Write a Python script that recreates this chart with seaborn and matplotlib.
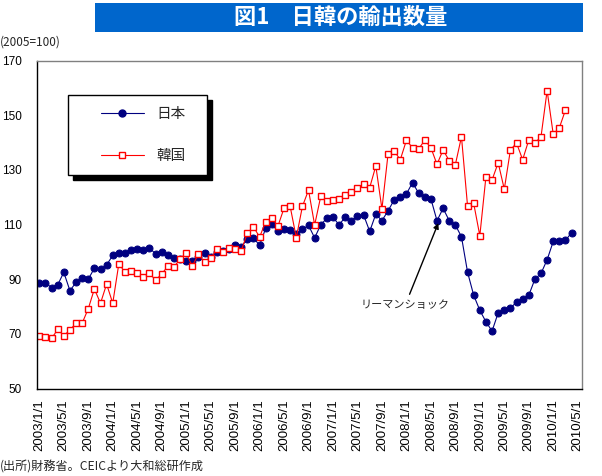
import numpy as np
import pandas as pd
import matplotlib
matplotlib.use("Agg")
import matplotlib.pyplot as plt
from matplotlib.patches import Rectangle
from matplotlib.lines import Line2D
import seaborn as sns

# monthly export volume index (2005=100), 2003/1 onward
japan = [88.5, 88.7, 86.9, 87.9, 92.5, 85.8, 88.8, 90.4, 90.0, 94.0, 93.6, 95.2,
         98.7, 99.6, 99.6, 100.8, 101.1, 100.8, 101.5, 99.2, 99.9, 98.8, 97.8, 97.5,
         96.7, 96.7, 98.0, 99.6, 98.0, 99.9, 100.4, 100.9, 102.4, 101.9, 104.6, 105.1,
         102.4, 108.6, 110.1, 107.5, 108.2, 107.9, 106.4, 108.2, 109.7, 105.1, 109.9, 112.3,
         112.6, 109.9, 112.7, 111.4, 113.1, 113.5, 107.5, 113.8, 111.4, 115.0, 119.0, 120.0,
         121.2, 125.3, 121.5, 120.0, 119.4, 111.4, 115.9, 111.4, 109.8, 105.5, 92.5, 84.1,
         78.6, 74.4, 71.0, 77.7, 78.7, 79.3, 81.7, 82.8, 84.1, 90.0, 92.1, 97.1,
         103.8, 103.8, 104.2, 107.0]
korea = [69.2, 68.9, 68.3, 71.6, 69.3, 71.4, 73.9, 73.9, 79.2, 86.4, 81.2, 88.2,
         81.2, 95.7, 92.5, 93.1, 92.1, 90.8, 92.2, 89.6, 91.9, 94.7, 94.3, 97.5,
         99.5, 94.7, 99.2, 96.1, 97.6, 100.9, 99.8, 101.4, 101.2, 100.4, 106.8, 109.2,
         105.4, 111.0, 112.4, 109.4, 116.0, 116.6, 105.2, 116.6, 122.6, 109.8, 120.3, 118.7,
         118.8, 119.4, 120.8, 122.0, 123.2, 124.7, 123.5, 131.4, 115.7, 135.8, 136.9, 133.7,
         140.8, 138.1, 137.7, 140.8, 138.1, 132.0, 137.3, 133.3, 131.9, 142.1, 116.6, 117.7,
         105.9, 127.5, 126.3, 132.6, 122.9, 137.3, 139.8, 133.7, 140.9, 139.8, 142.1, 159.0,
         143.0, 145.4, 151.9]

months = [f"{2003 + k // 12}/{k % 12 + 1}/1" for k in range(89)]
tick_idx = list(range(0, 89, 4))
tick_labels = [months[k] for k in tick_idx]
y_ticks = [50, 70, 90, 110, 130, 150, 170]

jp_font = ["Noto Sans CJK JP", "DejaVu Sans"]
num_font = ["Liberation Sans", "DejaVu Sans"]

df = pd.concat([
    pd.DataFrame({"t": range(len(japan)), "v": japan, "s": "日本"}),
    pd.DataFrame({"t": range(len(korea)), "v": korea, "s": "韓国"}),
])

sns.set_style("white")
plt.rcParams["font.family"] = jp_font

fig = plt.figure(figsize=(6.02, 4.76), dpi=100)
W, H = 602, 476
ax = fig.add_axes([37 / W, 1 - 388.5 / H, (582 - 37) / W, (388.5 - 60.5) / H])

sns.lineplot(data=df[df.s == "日本"], x="t", y="v", ax=ax, color="#000080",
             linewidth=0.8, marker="o", markersize=5, markeredgecolor="#000080",
             markerfacecolor="#000080", legend=False)
sns.lineplot(data=df[df.s == "韓国"], x="t", y="v", ax=ax, color="#FF0000",
             linewidth=0.8, marker="s", markersize=5, markeredgecolor="#FF0000",
             markerfacecolor="white", markeredgewidth=1.0, legend=False)

ax.set_xlim(-0.38, 88.7)
ax.set_ylim(50, 170)
ax.set_yticks(y_ticks)
ax.set_yticklabels([str(v) for v in y_ticks], fontsize=8.5, family=num_font)
ax.set_xticks(tick_idx)
ax.set_xticklabels(tick_labels, rotation=90, fontsize=9.5, family=num_font)
ax.tick_params(axis="both", direction="in", length=4, width=0.8, colors="black")
ax.tick_params(axis="x", pad=8)
ax.tick_params(axis="y", pad=11)
ax.set_xlabel("")
ax.set_ylabel("")
for side in ["left", "bottom"]:
    ax.spines[side].set_color("black")
    ax.spines[side].set_linewidth(1.0)
for side in ["top", "right"]:
    ax.spines[side].set_color("#808080")
    ax.spines[side].set_linewidth(1.0)

# legend box with solid shadow
bx0, bx1 = (68 - 37) / 545, (207 - 37) / 545
by0, by1 = (388.5 - 175) / 328, (388.5 - 95) / 328
ax.add_patch(Rectangle((bx0 + 5 / 545, by0 - 5 / 328), bx1 - bx0, by1 - by0,
                       transform=ax.transAxes, facecolor="black", edgecolor="black", zorder=5))
ax.add_patch(Rectangle((bx0, by0), bx1 - bx0, by1 - by0, transform=ax.transAxes,
                       facecolor="white", edgecolor="black", linewidth=1.0, zorder=6))
handles = [
    Line2D([], [], color="#000080", lw=0.8, marker="o", markersize=5,
           markerfacecolor="#000080", markeredgecolor="#000080"),
    Line2D([], [], color="#FF0000", lw=0.8, marker="s", markersize=5,
           markerfacecolor="white", markeredgecolor="#FF0000"),
]
leg = ax.legend(handles, ["日本", "韓国"], loc="center",
                bbox_to_anchor=((bx0 + bx1) / 2 + 0.01, (by0 + by1) / 2),
                frameon=False, handlelength=3.0, labelspacing=1.9,
                handletextpad=0.8, prop={"family": jp_font, "size": 10.5})
leg.set_zorder(7)

ax.annotate("リーマンショック", xy=(65.3, 111.0), xytext=(59.8, 80.5),
            ha="center", va="center", fontsize=8, family=jp_font,
            arrowprops=dict(arrowstyle="-|>", color="black", lw=1.0,
                            shrinkA=2, shrinkB=1, mutation_scale=8))

# title banner
fig.patches.append(Rectangle((95 / W, 1 - 32 / H), (583 - 95) / W, 29 / H,
                             transform=fig.transFigure, facecolor="#0066CC",
                             edgecolor="none"))
fig.text(341 / W, 1 - 17.5 / H, "図1　日韓の輸出数量", color="white", fontsize=16,
         fontweight="bold", ha="center", va="center", family=jp_font)
fig.text(0, 1 - 42 / H, "(2005=100)", fontsize=8.5, ha="left", va="center",
         family=jp_font)
fig.text(0, 1 - 467 / H, "(出所)財務省。CEICより大和総研作成", fontsize=8.7, ha="left",
         va="center", family=jp_font)

fig.savefig("out.png", dpi=100)
